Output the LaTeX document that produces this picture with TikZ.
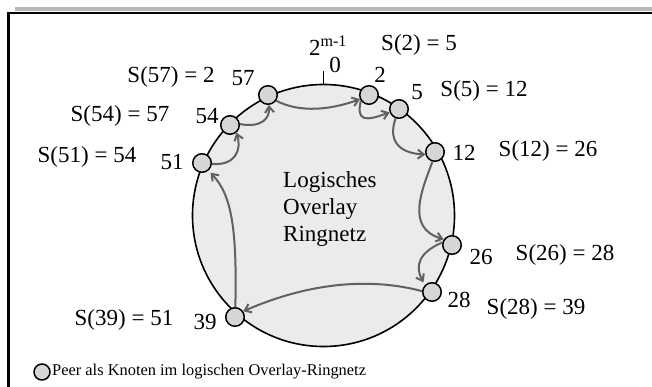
\documentclass[tikz,border=0pt]{standalone}
\usepackage{fontspec}
\setmainfont{Liberation Serif}
\usetikzlibrary{arrows.meta}
\definecolor{ringfill}{gray}{0.92}
\definecolor{peerfill}{gray}{0.84}
\definecolor{arr}{gray}{0.38}
\definecolor{barcol}{gray}{0.72}
\begin{document}
\begin{tikzpicture}[x=1pt,y=-1pt,
  peer/.style={circle,draw,line width=1.5pt,fill=peerfill,minimum size=18.5pt,inner sep=0pt},
  lbl/.style={font=\fontsize{23}{27}\selectfont,inner sep=0pt},
  succ/.style={draw=arr,line width=2pt,-{Straight Barb[length=6pt,width=9pt]}},
  ]
\useasboundingbox (0,0) rectangle (652,387);
% frame
\fill[barcol] (15,7) rectangle (652,11.5);
\draw[line width=2.5pt] (8.5,387) -- (8.5,13) -- (652,13);
% ring
\node[circle,draw,line width=1.6pt,fill=ringfill,minimum size=262pt,inner sep=0pt] (ring) at (323.5,215.5) {};
\draw[line width=1.5pt] (ring.north) -- ++(0,-13) coordinate (tick);
% peers
\node[peer] (p57) at (268,95) {};
\node[peer] (p2) at (369,95) {};
\node[peer] (p5) at (399,109) {};
\node[peer] (p54) at (230,125) {};
\node[peer] (p51) at (202,163) {};
\node[peer] (p12) at (435,152) {};
\node[peer] (p26) at (452,245) {};
\node[peer] (p28) at (432,292) {};
\node[peer] (p39) at (235,317) {};
% successor arrows
\draw[succ] (p57.-35) .. controls (300,113) and (330,110) .. (p2.205);
\draw[succ] (p2.215) .. controls (356,122) and (366,121) .. (p5.200);
\draw[succ] (p5.250) .. controls (388,140) and (398,153) .. (p12.195);
\draw[succ] (p12.255) .. controls (422,190) and (405,228) .. (p26.145);
\draw[succ,shorten >=3pt] (p26.165) .. controls (420,252) and (414,265) .. (p28.135);
\draw[succ] (p28.175) .. controls (380,280) and (320,278) .. (p39.35);
\draw[succ,shorten >=3pt] (p39.88) .. controls (237,230) and (232,195) .. (p51.-50);
\draw[succ] (p51.-5) .. controls (235,166) and (242,150) .. (p54.-50);
\draw[succ] (p54.5) .. controls (262,128) and (270,118) .. (p57.-85);
% labels
\node[lbl] (top) at (328,46) {2\textsuperscript{m-1}};
\node[lbl] (zero) at (335,65) {0};
\node[lbl] (l2) at (380,75) {2};
\node[lbl] (s2) at (419,45) {S(2) = 5};
\node[lbl] (l5) at (417,92) {5};
\node[lbl] (s5) at (484,91) {S(5) = 12};
\node[lbl] (l57) at (243,78) {57};
\node[lbl] (s57) at (171,77) {S(57) = 2};
\node[lbl] (l54) at (207,116) {54};
\node[lbl] (s54) at (120,116) {S(54) = 57};
\node[lbl] (l51) at (172,162) {51};
\node[lbl] (s51) at (87,157) {S(51) = 54};
\node[lbl] (l12) at (464,153) {12};
\node[lbl] (s12) at (548,151) {S(12) = 26};
\node[lbl] (l26) at (481,257) {26};
\node[lbl] (s26) at (565,255) {S(26) = 28};
\node[lbl] (l28) at (459,300) {28};
\node[lbl] (s28) at (536,309) {S(28) = 39};
\node[lbl] (l39) at (205,322) {39};
\node[lbl] (s39) at (124,320) {S(39) = 51};
\node[lbl,anchor=west,align=left] (title) at (283,209) {Logisches\\Overlay\\Ringnetz};
% legend
\node[peer,minimum size=16pt] (leg) at (42,372) {};
\node[anchor=west,inner sep=0pt,font=\fontsize{16.4}{19}\selectfont] (legtext) at (52,372) {Peer als Knoten im logischen Overlay-Ringnetz};
\end{tikzpicture}
\end{document}
